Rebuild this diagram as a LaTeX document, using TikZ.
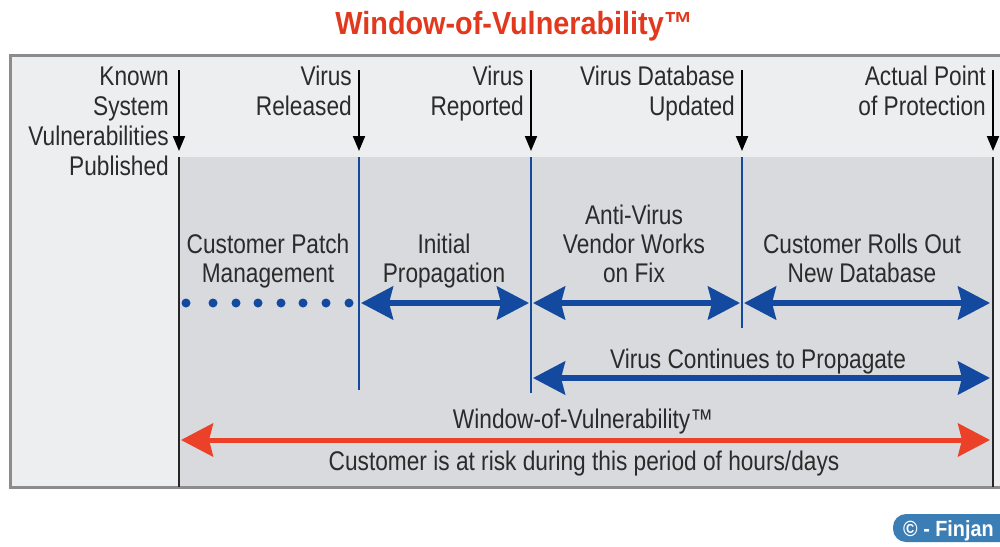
\documentclass[tikz,border=0pt]{standalone}
\usepackage{fontspec}
\setmainfont{Liberation Sans}[FakeStretch=0.84]
\newfontfamily\titlefont{Liberation Sans}[FakeStretch=0.9]
\usetikzlibrary{arrows.meta}
\definecolor{boxlight}{HTML}{ECEEF0}
\definecolor{boxgray}{HTML}{D8DADD}
\definecolor{boxedge}{HTML}{8C8C8C}
\definecolor{txt}{HTML}{2B2B2B}
\definecolor{blueline}{HTML}{1449A0}
\definecolor{redline}{HTML}{EA4128}
\definecolor{titlered}{HTML}{E2391E}
\definecolor{finjan}{HTML}{3B7DB5}
\begin{document}
\begin{tikzpicture}[x=1pt,y=-1pt,
  lbl/.style={font=\fontsize{27}{30}\selectfont, text=txt, inner sep=0pt, anchor=base east},
  mid/.style={font=\fontsize{27}{30}\selectfont, text=txt, inner sep=0pt, anchor=base},
  downarr/.style={draw=black, line width=2pt, -{Triangle[length=15pt,width=12pt]}},
  blackv/.style={draw=black!85, line width=2.5pt},
  bluev/.style={draw=blueline, line width=2pt},
  bluearr/.style={draw=blueline, line width=5.5pt, {Stealth[length=32pt,width=33pt,inset=4pt]}-{Stealth[length=32pt,width=33pt,inset=4pt]}},
  redarr/.style={draw=redline, line width=5pt, {Stealth[length=32pt,width=33pt,inset=4pt]}-{Stealth[length=32pt,width=33pt,inset=4pt]}}
]
\useasboundingbox (0,0) rectangle (1000,546);
% frame
\fill[boxlight] (10,55) rectangle (1006,487);
\fill[boxgray] (179,157) rectangle (993,487);
\draw[boxedge, line width=3pt] (10,55) rectangle (1006,487);
% title
\node[font=\titlefont\bfseries\fontsize{32}{36}\selectfont, text=titlered, anchor=base, inner sep=0pt] (title) at (514,34) {Window-of-Vulnerability™};
% coordinates
\coordinate (ktop) at (179,70);  \coordinate (ktip) at (179,151); \coordinate (kline) at (179,157); \coordinate (kbot) at (179,487);
\coordinate (rtop) at (359,70);  \coordinate (rtip) at (359,151); \coordinate (rline) at (359,157); \coordinate (rbot) at (359,390);
\coordinate (ptop) at (531,70);  \coordinate (ptip) at (531,151); \coordinate (pline) at (531,157); \coordinate (pbot) at (531,393);
\coordinate (utop) at (742,70);  \coordinate (utip) at (742,151); \coordinate (uline) at (742,157); \coordinate (ubot) at (742,328);
\coordinate (atop) at (993,70);  \coordinate (atip) at (993,151); \coordinate (aline) at (993,157); \coordinate (abot) at (993,487);
% down arrows
\draw[downarr] (ktop) -- (ktip);
\draw[downarr] (rtop) -- (rtip);
\draw[downarr] (ptop) -- (ptip);
\draw[downarr] (utop) -- (utip);
\draw[downarr] (atop) -- (atip);
% vertical lines
\draw[blackv] (kline) -- (kbot);
\draw[blackv] (aline) -- (abot);
\draw[bluev] (rline) -- (rbot);
\draw[bluev] (pline) -- (pbot);
\draw[bluev] (uline) -- (ubot);
% top labels
\node[lbl] (k1) at (169,85) {Known};
\node[lbl] (k2) at (169,115) {System};
\node[lbl] (k3) at (169,145) {Vulnerabilities};
\node[lbl] (k4) at (169,175) {Published};
\node[lbl] (r1) at (352,85) {Virus};
\node[lbl] (r2) at (352,115) {Released};
\node[lbl] (p1) at (524,85) {Virus};
\node[lbl] (p2) at (524,115) {Reported};
\node[lbl] (u1) at (735,85) {Virus Database};
\node[lbl] (u2) at (735,115) {Updated};
\node[lbl] (a1) at (986,85) {Actual Point};
\node[lbl] (a2) at (986,115) {of Protection};
% phase labels
\node[mid] (cp1) at (268,253) {Customer Patch};
\node[mid] (cp2) at (268,282) {Management};
\node[mid] (ip1) at (444,253) {Initial};
\node[mid] (ip2) at (444,282) {Propagation};
\node[mid] (av1) at (634,224) {Anti-Virus};
\node[mid] (av2) at (634,253) {Vendor Works};
\node[mid] (av3) at (634,282) {on Fix};
\node[mid] (cr1) at (862,253) {Customer Rolls Out};
\node[mid] (cr2) at (862,282) {New Database};
\node[mid] (vc) at (758,368) {Virus Continues to Propagate};
\node[mid] (wv) at (583,428) {Window-of-Vulnerability™};
\node[mid] (risk) at (584,470) {Customer is at risk during this period of hours/days};
% arrow ends
\coordinate (ipL) at (361,303); \coordinate (ipR) at (529,303);
\coordinate (avL) at (533,303); \coordinate (avR) at (740,303);
\coordinate (crL) at (744,303); \coordinate (crR) at (990,303);
\coordinate (vcL) at (533,378); \coordinate (vcR) at (990,378);
\coordinate (wvL) at (181,440); \coordinate (wvR) at (990,440);
\draw[bluearr] (ipL) -- (ipR);
\draw[bluearr] (avL) -- (avR);
\draw[bluearr] (crL) -- (crR);
\draw[bluearr] (vcL) -- (vcR);
\draw[redarr] (wvL) -- (wvR);
% dotted patch line
\foreach \x in {186,213,236,258,281,303,326,349} { \fill[blueline] (\x,303) circle (4.5pt); }
% badge
\fill[finjan] (893,514) [rounded corners=13pt] rectangle (1020,542);
\node[font=\titlefont\bfseries\fontsize{22}{24}\selectfont, text=white, anchor=base west, inner sep=0pt] (badge) at (903,536) {© - Finjan};
\end{tikzpicture}
\end{document}
